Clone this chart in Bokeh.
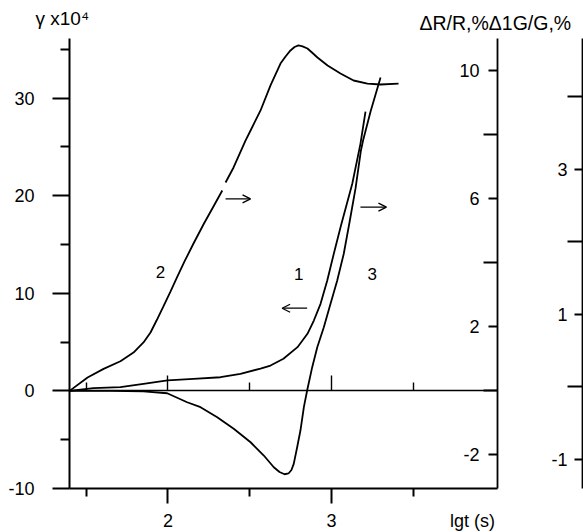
from bokeh.plotting import figure
from bokeh.models import LinearAxis, Range1d, FixedTicker, Label, Arrow, OpenHead
from bokeh.embed import file_html
from bokeh.resources import INLINE

nan = float("nan")

# ---- data (x = lg t, y = gamma x 1e4) ----
c1_lgt = [1.398, 1.544, 1.709, 1.850, 1.997, 2.156, 2.321, 2.443, 2.566, 2.627, 2.706,
          2.792, 2.853, 2.892, 2.933, 2.974, 3.014, 3.058, 3.127, 3.177, 3.208]
c1_gamma = [0.0, 0.28, 0.38, 0.73, 1.07, 1.24, 1.40, 1.75, 2.29, 2.60, 3.29,
            4.48, 5.85, 7.21, 8.92, 11.31, 14.05, 16.95, 21.22, 25.31, 28.62]

c2_lgt = [1.398, 1.508, 1.606, 1.709, 1.789, 1.850, 1.893, 1.930, 1.972, 2.015, 2.055,
          2.101, 2.156, 2.220, 2.278, 2.332, nan, 2.352, 2.401, 2.474, 2.505, 2.566,
          2.627, 2.688, 2.719, 2.749, 2.774, 2.798, 2.823, 2.853, 2.884, 2.914, 2.976,
          3.055, 3.135, 3.220, 3.300, 3.410]
c2_gamma = [0.0, 1.37, 2.26, 3.04, 3.93, 4.96, 5.98, 7.21, 8.65, 10.18, 11.62,
            13.26, 15.10, 17.15, 18.89, 20.53, nan, 21.35, 22.89, 25.65, 26.68, 28.73,
            31.30, 33.54, 34.26, 34.88, 35.23, 35.39, 35.30, 35.08, 34.62, 34.16, 33.34,
            32.52, 31.80, 31.49, 31.39, 31.49]

c3_lgt = [1.398, 1.648, 1.850, 1.995, 2.117, 2.199, 2.301, 2.402, 2.505, 2.586, 2.647,
          2.682, 2.713, 2.737, 2.755, 2.769, 2.790, 2.810, 2.831, 2.851, 2.882, 2.913,
          2.953, 2.994, 3.035, 3.075, 3.110, 3.147, 3.180, 3.193, 3.239, 3.300]
c3_gamma = [0.0, 0.0, -0.05, -0.24, -1.16, -1.67, -2.69, -3.88, -5.26, -6.62, -7.82,
            -8.31, -8.54, -8.46, -8.10, -7.47, -5.77, -4.06, -1.67, 0.04, 2.43, 4.48,
            6.53, 8.92, 11.31, 14.05, 17.25, 20.74, 24.63, 25.65, 28.62, 32.11]

x_major = [2, 3]
x_minor = [1.5, 2.5, 3.5]
gamma_major = [-10, 0, 10, 20, 30]
gamma_minor = [-5, 5, 15, 25, 35]
dr_major = [-2, 2, 6, 10]
dr_minor = [0, 4, 8]
dg_major = [-1, 1, 3]
dg_minor = [0, 2, 4]

# axis extents (data units)
X_LEFT, X_AX1, X_AX2 = 1.3976, 4.0153, 4.5352
G_MIN, G_MAX = -10, 36.1
R1_MIN, R1_MAX = -3.05, 11.01
R2_MIN, R2_MAX = -1.40, 4.807

FONT = "Liberation Sans"

# the frame covers the whole canvas so that every text can sit inside it
p = figure(frame_width=583, frame_height=532,
           x_range=Range1d(0.97554, 4.54128), y_range=Range1d(-14.507, 39.996),
           x_axis_location=None, y_axis_location=None,
           output_backend="svg", toolbar_location=None,
           min_border=0)
p.extra_y_ranges = {"r1": Range1d(-4.428, 12.197), "r2": Range1d(-2.007, 5.331)}
p.grid.visible = False
p.outline_line_color = None
p.background_fill_color = "white"
p.border_fill_color = "white"


def make_axis(side, lw, **kw):
    ax = LinearAxis(**kw)
    ax.axis_line_width = lw
    ax.axis_line_color = "black"
    ax.major_tick_line_width = lw
    ax.minor_tick_line_width = lw
    ax.major_tick_line_color = "black"
    ax.minor_tick_line_color = "black"
    ax.major_label_text_font = FONT
    ax.major_label_text_font_size = "18px"
    ax.major_label_text_color = "black"
    p.add_layout(ax, side)
    return ax


# left gamma axis
make_axis("left", 2, fixed_location=X_LEFT, bounds=(G_MIN, G_MAX),
          ticker=FixedTicker(ticks=gamma_major, minor_ticks=gamma_minor),
          major_tick_out=17, major_tick_in=0, minor_tick_out=9, minor_tick_in=0,
          major_label_standoff=18, major_label_overrides={-10: "-10"})

# bottom axis
make_axis("below", 2, fixed_location=G_MIN, bounds=(X_LEFT, X_AX1),
          ticker=FixedTicker(ticks=x_major, minor_ticks=x_minor),
          major_tick_out=15, major_tick_in=0, minor_tick_out=8, minor_tick_in=0,
          major_label_standoff=10)

# zero line with upward ticks
make_axis("below", 1.4, fixed_location=0, bounds=(X_LEFT, X_AX1),
          ticker=FixedTicker(ticks=[], minor_ticks=x_major),
          minor_tick_in=15, minor_tick_out=0)
z2 = make_axis("below", 1.4, fixed_location=0, bounds=(X_LEFT, X_AX1),
               ticker=FixedTicker(ticks=[], minor_ticks=x_minor),
               minor_tick_in=8, minor_tick_out=0)
z2.axis_line_color = None

# dR/R axis
make_axis("left", 1.8, y_range_name="r1", fixed_location=X_AX1, bounds=(R1_MIN, R1_MAX),
          ticker=FixedTicker(ticks=dr_major, minor_ticks=dr_minor),
          major_tick_out=9, major_tick_in=0, minor_tick_out=14, minor_tick_in=0,
          major_label_standoff=4, major_label_overrides={-2: "-2"})

# dG/G axis
make_axis("left", 1.8, y_range_name="r2", fixed_location=X_AX2, bounds=(R2_MIN, R2_MAX),
          ticker=FixedTicker(ticks=dg_major, minor_ticks=dg_minor),
          major_tick_out=8, major_tick_in=0, minor_tick_out=15, minor_tick_in=0,
          major_label_standoff=0, major_label_overrides={-1: "-1"})

# curves
for xs, ys in ((c1_lgt, c1_gamma), (c2_lgt, c2_gamma), (c3_lgt, c3_gamma)):
    p.line(xs, ys, line_color="black", line_width=1.8)

# arrows
arrows = [((2.352, 19.68), (2.505, 19.68)),
          ((3.177, 18.82), (3.336, 18.82)),
          ((2.851, 8.47), (2.698, 8.47))]
for (xs_, ys_), (xe_, ye_) in arrows:
    p.add_layout(Arrow(end=OpenHead(size=8, line_width=1.3, line_color="black"),
                       x_start=xs_, y_start=ys_, x_end=xe_, y_end=ye_,
                       line_width=1.3, line_color="black"))

# texts
texts = [
    ("2", 1.954, 12.13, "center", "17px"),
    ("1", 2.800, 11.99, "center", "17px"),
    ("3", 3.249, 11.99, "center", "17px"),
    ("γ x10⁴", 1.1896, 38.15, "left", "19px"),
    ("ΔR/R,%Δ1G/G,%", 3.538, 37.74, "left", "19.5px"),
    ("lgt (s)", 3.862, -13.28, "center", "18px"),
]
for t, x, y, al, size in texts:
    p.add_layout(Label(x=x, y=y, text=t, text_align=al, text_baseline="middle",
                       text_font=FONT, text_font_size=size, text_color="black"))

open("out.html", "w").write(file_html(p, INLINE))
